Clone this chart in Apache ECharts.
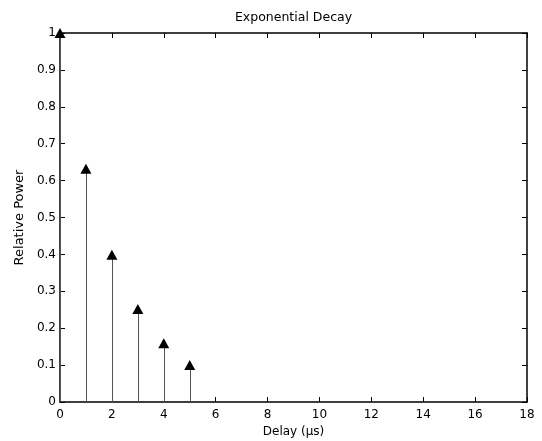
<!DOCTYPE html>
<html>
<head>
<meta charset="utf-8">
<script src="https://cdn.jsdelivr.net/npm/echarts@6/dist/echarts.min.js"></script>
<style>
html, body { margin: 0; padding: 0; background: #fff; }
#chart { width: 542px; height: 441px; }
</style>
</head>
<body>
<div id="chart"></div>
<script>
// Power delay profile: delay in microseconds and relative power of each tap
const delays = [0, 1, 2, 3, 4, 5];
const relativePower = [1.0, 0.632, 0.399, 0.252, 0.159, 0.100];
const xTicks = [0, 2, 4, 6, 8, 10, 12, 14, 16, 18];
const yTicks = [0, 0.1, 0.2, 0.3, 0.4, 0.5, 0.6, 0.7, 0.8, 0.9, 1];

const points = delays.map((d, i) => [d, relativePower[i]]);
const font = '"DejaVu Sans", Arial, Helvetica, sans-serif';

const chart = echarts.init(document.getElementById('chart'), null, { renderer: 'canvas' });

const boxAxis = {
  axisLine: { show: true, onZero: false, lineStyle: { color: '#000', width: 1.5 } },
  axisTick: { show: true, inside: true, length: 5, lineStyle: { color: '#000', width: 1 } },
  splitLine: { show: false }
};

chart.setOption({
  animation: false,
  backgroundColor: '#fff',
  grid: { left: 60, right: 15, top: 33, bottom: 39, containLabel: false, outerBoundsMode: 'none' },
  xAxis: [
    Object.assign({
      type: 'value', min: 0, max: 18, interval: 2, position: 'bottom',
      name: 'Delay (\u00b5s)', nameLocation: 'middle', nameGap: 23,
      nameTextStyle: { fontFamily: font, fontSize: 12, color: '#000' },
      axisLabel: {
        fontFamily: font, fontSize: 12, color: '#000', margin: 7,
        formatter: v => xTicks.includes(v) ? String(v) : ''
      }
    }, boxAxis),
    // top edge of the box, carrying the title centred over the plot
    Object.assign({
      type: 'value', min: 0, max: 18, interval: 2, position: 'top',
      name: 'Exponential Decay', nameLocation: 'middle', nameGap: 9,
      nameTextStyle: { fontFamily: font, fontSize: 12.5, color: '#000' },
      axisLabel: { show: false }
    }, boxAxis)
  ],
  yAxis: [
    Object.assign({
      type: 'value', min: 0, max: 1, interval: 0.1, position: 'left',
      name: 'Relative Power', nameLocation: 'middle', nameGap: 30,
      nameTextStyle: { fontFamily: font, fontSize: 13, color: '#000' },
      axisLabel: {
        fontFamily: font, fontSize: 12, color: '#000', margin: 4,
        formatter: v => {
          const t = yTicks.find(y => Math.abs(y - v) < 1e-9);
          return t === undefined ? '' : String(t);
        }
      }
    }, boxAxis),
    Object.assign({
      type: 'value', min: 0, max: 1, interval: 0.1, position: 'right',
      axisLabel: { show: false }
    }, boxAxis)
  ],
  series: [
    {
      // stems from the baseline up to each tap
      type: 'custom',
      xAxisIndex: 0, yAxisIndex: 0,
      clip: false,
      renderItem: (params, api) => {
        const base = api.coord([api.value(0), 0]);
        const top = api.coord([api.value(0), api.value(1)]);
        return {
          type: 'line',
          shape: { x1: Math.round(base[0]) + 0.5, y1: base[1], x2: Math.round(top[0]) + 0.5, y2: top[1] },
          style: { stroke: '#555', lineWidth: 1 }
        };
      },
      data: points,
      z: 2
    },
    {
      // triangle markers at each tap
      type: 'scatter',
      xAxisIndex: 0, yAxisIndex: 0,
      clip: false,
      symbol: 'triangle',
      symbolSize: [11, 10],
      itemStyle: { color: '#000', opacity: 1 },
      data: points,
      z: 3
    }
  ]
});
</script>
</body>
</html>
